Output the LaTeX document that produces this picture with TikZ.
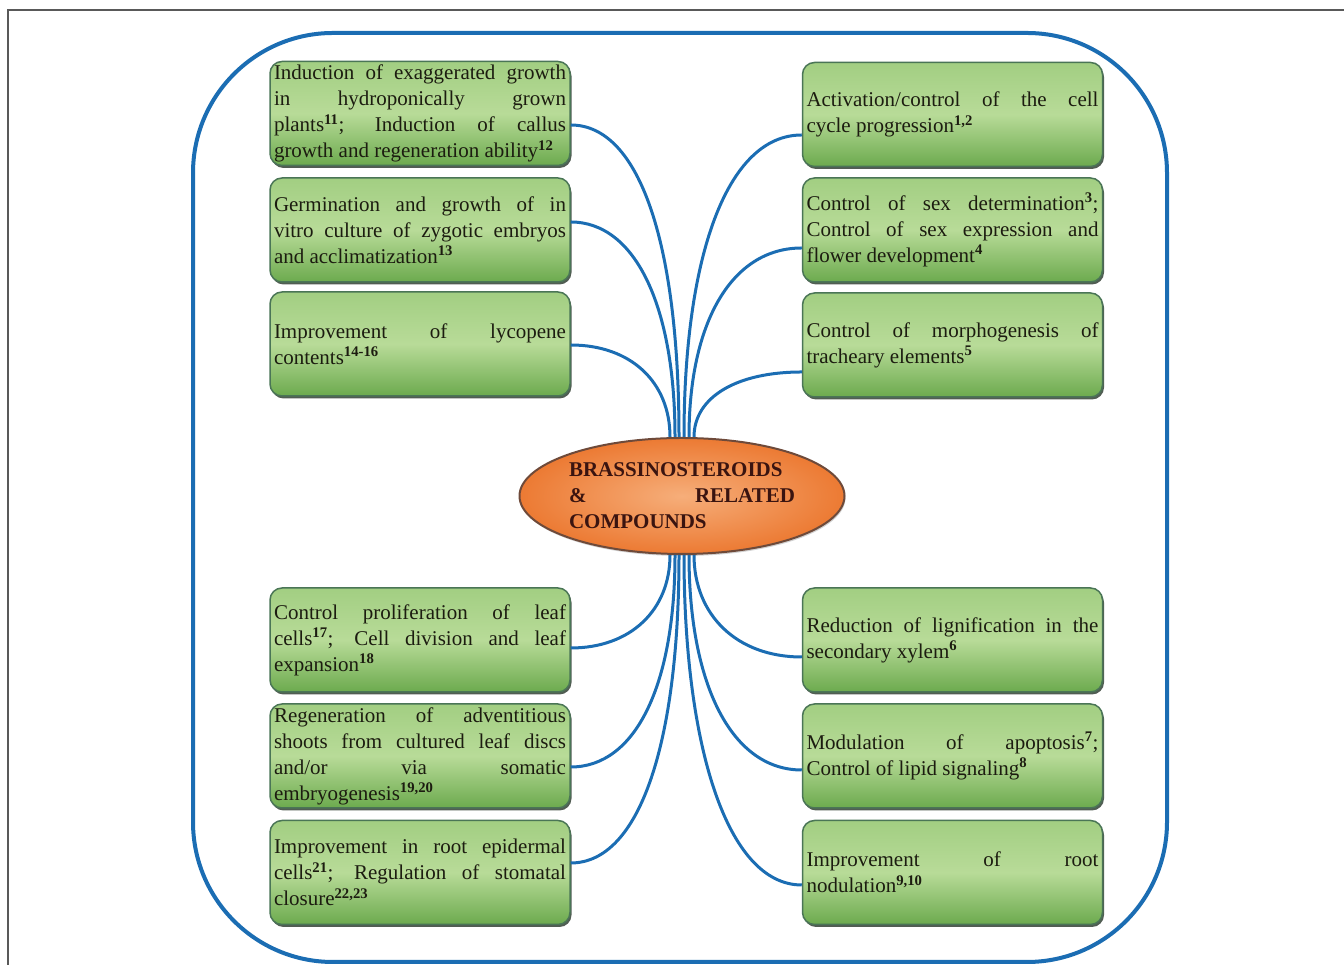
\documentclass[tikz,border=0pt]{standalone}
\usepackage{fontspec}
\setmainfont{Liberation Serif}
\usetikzlibrary{shapes.geometric,shadows}
\definecolor{frameblue}{HTML}{1B6DB3}
\definecolor{boxtop}{HTML}{A2CE82}
\definecolor{boxmid}{HTML}{B8DB98}
\definecolor{boxbot}{HTML}{6CAA4E}
\definecolor{boxborder}{HTML}{4A7556}
\definecolor{boxshadow}{HTML}{3E4B40}
\definecolor{boxtext}{HTML}{1C1C10}
\definecolor{elinner}{HTML}{F6AE7A}
\definecolor{elouter}{HTML}{EC7A33}
\definecolor{elborder}{HTML}{6E4A3A}
\definecolor{eltext}{HTML}{3A1410}
\newcommand\rf[1]{\textsuperscript{\textbf{#1}}}
\tikzset{
  infobox/.style={rectangle, rounded corners=12pt, draw=boxborder, line width=1.5pt,
    top color=boxtop, bottom color=boxbot, middle color=boxmid,
    minimum width=300pt, minimum height=104pt, text width=292pt, inner xsep=4pt, inner ysep=2pt,
    align=justify, text=boxtext, font=\fontsize{21}{26}\selectfont,
    drop shadow={shadow xshift=1.5pt, shadow yshift=-2.5pt, fill=boxshadow, opacity=0.9}},
  centre/.style={ellipse, draw=elborder, line width=2pt, inner color=elinner, outer color=elouter,
    minimum width=325pt, minimum height=116pt, inner sep=0pt, text width=226pt, align=justify,
    text=eltext, font=\bfseries\fontsize{21}{26}\selectfont,
    drop shadow={shadow xshift=1pt, shadow yshift=-2pt, fill=gray!60, opacity=0.6}},
  link/.style={draw=frameblue, line width=3pt},
}
\begin{document}
\begin{tikzpicture}[x=1pt,y=1pt]
\useasboundingbox (0,0) rectangle (1344,965);
% outer gray frame
\draw[gray!70!black, line width=1.5pt] (8,-10) -- (8,955) -- (1360,955);
% blue rounded frame
\draw[frameblue, line width=4pt, rounded corners=140pt] (193,3) rectangle (1167,932);

% centre
\node[centre] (E) at (682,469) {BRASSINOSTEROIDS\linebreak \& RELATED\linebreak COMPOUNDS};

% left boxes
\node[infobox] (L1) at (420,851.5) {Induction of exaggerated growth\linebreak in hydroponically grown\linebreak plants\rf{11}; Induction of callus\linebreak growth and regeneration ability\rf{12}};
\node[infobox] (L2) at (420,735) {Germination and growth of in\linebreak vitro culture of zygotic embryos\linebreak and acclimatization\rf{13}};
\node[infobox] (L3) at (420,621) {Improvement of lycopene\linebreak contents\rf{14-16}};
\node[infobox] (L4) at (420,325) {Control proliferation of leaf\linebreak cells\rf{17}; Cell division and leaf\linebreak expansion\rf{18}};
\node[infobox] (L5) at (420,209) {Regeneration of adventitious\linebreak shoots from cultured leaf discs\linebreak and/or via somatic\linebreak embryogenesis\rf{19,20}};
\node[infobox] (L6) at (420,92.5) {Improvement in root epidermal\linebreak cells\rf{21}; Regulation of stomatal\linebreak closure\rf{22,23}};

% right boxes
\node[infobox] (R1) at (952.5,850.5) {Activation/control of the cell\linebreak cycle progression\rf{1,2}};
\node[infobox] (R2) at (952.5,735) {Control of sex determination\rf{3};\linebreak Control of sex expression and\linebreak flower development\rf{4}};
\node[infobox] (R3) at (952.5,620) {Control of morphogenesis of\linebreak tracheary elements\rf{5}};
\node[infobox] (R4) at (952.5,325) {Reduction of lignification in the\linebreak secondary xylem\rf{6}};
\node[infobox] (R5) at (952.5,209) {Modulation of apoptosis\rf{7};\linebreak Control of lipid signaling\rf{8}};
\node[infobox] (R6) at (952.5,92.5) {Improvement of root\linebreak nodulation\rf{9,10}};

% connectors (top)
\draw[link] ([xshift=-3pt]E.north) .. controls +(0,190) and +(70,0) .. ([yshift=-11.5pt]L1.east);
\draw[link] ([xshift=-7pt]E.north) .. controls +(0,130) and +(65,0) .. ([yshift=8pt]L2.east);
\draw[link] ([xshift=-12pt]E.north) .. controls +(0,55) and +(60,0) .. ([yshift=-1pt]L3.east);
\draw[link] ([xshift=2pt]E.north) .. controls +(0,180) and +(-75,0) .. ([yshift=-20.5pt]R1.west);
\draw[link] ([xshift=7pt]E.north) .. controls +(0,115) and +(-70,0) .. ([yshift=-18pt]R2.west);
\draw[link] ([xshift=12pt]E.north) .. controls +(0,40) and +(-65,0) .. ([yshift=-27pt]R3.west);
% connectors (bottom)
\draw[link] ([xshift=-12pt]E.south) .. controls +(0,-55) and +(60,0) .. ([yshift=-8pt]L4.east);
\draw[link] ([xshift=-7pt]E.south) .. controls +(0,-130) and +(65,0) .. ([yshift=-11pt]L5.east);
\draw[link] ([xshift=-3pt]E.south) .. controls +(0,-185) and +(70,0) .. ([yshift=9.5pt]L6.east);
\draw[link] ([xshift=12pt]E.south) .. controls +(0,-60) and +(-65,0) .. ([yshift=-17pt]R4.west);
\draw[link] ([xshift=7pt]E.south) .. controls +(0,-130) and +(-70,0) .. ([yshift=-14pt]R5.west);
\draw[link] ([xshift=2pt]E.south) .. controls +(0,-190) and +(-75,0) .. ([yshift=-12.5pt]R6.west);
\end{tikzpicture}
\end{document}
